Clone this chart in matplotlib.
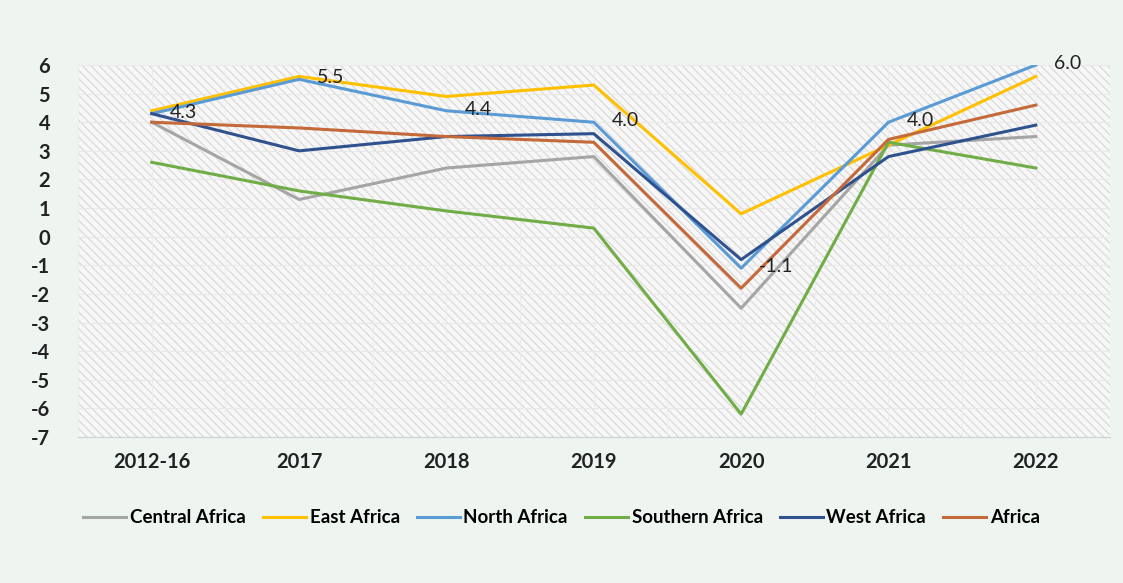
import numpy as np
from matplotlib import pyplot as plt
from matplotlib.patches import Rectangle

periods = ["2012-16", "2017", "2018", "2019", "2020", "2021", "2022"]

central = [4.0, 1.3, 2.4, 2.8, -2.5, 3.2, 3.5]
east = [4.4, 5.6, 4.9, 5.3, 0.8, 3.2, 5.6]
north = [4.3, 5.5, 4.4, 4.0, -1.1, 4.0, 6.0]
southern = [2.6, 1.6, 0.9, 0.3, -6.2, 3.3, 2.4]
west = [4.3, 3.0, 3.5, 3.6, -0.8, 2.8, 3.9]
africa = [4.0, 3.8, 3.5, 3.3, -1.8, 3.4, 4.6]

series = [
    ("Central Africa", central, "#a5a5a5"),
    ("East Africa", east, "#ffc000"),
    ("North Africa", north, "#5b9bd5"),
    ("Southern Africa", southern, "#70ad47"),
    ("West Africa", west, "#2f528f"),
    ("Africa", africa, "#c4693a"),
]

plt.rcParams["font.family"] = ["Lato", "DejaVu Sans"]
plt.rcParams["hatch.linewidth"] = 0.9
plt.rcParams["hatch.color"] = "#dadada"

bg = "#eef5f1"
fig = plt.figure(figsize=(11.23, 5.83), dpi=100, facecolor=bg)
ax = fig.add_axes([0.0695, 0.2504, 0.9185, 0.6381])
ax.set_facecolor("white")

x = np.arange(len(periods))
ax.set_xlim(-0.5, len(periods) - 0.5)
ax.set_ylim(-7, 6)

# hatched plot area
ax.add_patch(Rectangle((0, 0), 1, 1, transform=ax.transAxes, facecolor="#f7f7f7",
                       hatch="\\\\\\\\", edgecolor="#dadada", linewidth=0, zorder=0))

for v in range(-7, 7):
    ax.axhline(v, color="#e8e8e8", lw=0.8, zorder=1)
for b in np.arange(-0.5, len(periods), 0.5):
    ax.axvline(b, color="#ececec", lw=0.6, zorder=1)

for name, vals, col in series:
    ax.plot(x, vals, color=col, lw=2.2, label=name, zorder=3)

for xi, v in zip(x, north):
    ax.annotate(f"{v:.1f}", (xi, v), xytext=(13, 1), textcoords="offset points",
                ha="left", va="center", fontsize=14, color="#222222", zorder=4)

ax.set_xticks(x)
ax.set_xticklabels(periods, fontsize=14.5, fontweight="bold", color="#222222")
ax.set_yticks(range(-7, 7))
ax.set_yticklabels([str(v) for v in range(-7, 7)], fontsize=14.5,
                   fontweight="bold", color="#222222")
ax.tick_params(length=0, pad=11)
ax.tick_params(axis="y", pad=20)
for s in ["top", "right", "left"]:
    ax.spines[s].set_visible(False)
ax.spines["bottom"].set_color("#d0d0d0")

leg = fig.legend(loc="center", bbox_to_anchor=(0.5, 0.112), ncol=6, frameon=False,
                 handlelength=2.3, handletextpad=0.2, columnspacing=0.9,
                 prop={"weight": "bold", "size": 13.5})

plt.savefig("out.png", dpi=100, facecolor=bg)
